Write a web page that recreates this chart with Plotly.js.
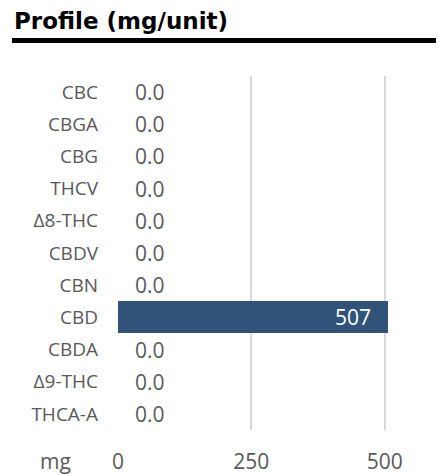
<!DOCTYPE html>
<html>
<head>
<meta charset="utf-8">
<script src="https://cdn.plot.ly/plotly-3.0.1.min.js"></script>
<style>html,body{margin:0;padding:0;background:#fff;}#chart{width:439px;height:475px;}</style>
</head>
<body>
<div id="chart"></div>
<script>
// Data (top to bottom as shown)
var categories = ["CBC", "CBGA", "CBG", "THCV", "\u03948-THC", "CBDV", "CBN", "CBD", "CBDA", "\u03949-THC", "THCA-A"];
var values = [0, 0, 0, 0, 0, 0, 0, 507, 0, 0, 0];
var xTicks = [0, 250, 500];
var unitLabel = "mg";
var chartTitle = "Profile (mg/unit)";

var labels = values.map(function (v) { return v >= 100 ? String(Math.round(v)) : v.toFixed(1); });

var grey = "#595959";
var barColor = "#31537a";

var annotations = values.map(function (v, i) {
  var inside = v >= 100;
  return {
    x: v, y: categories[i], xref: "x", yref: "y",
    text: labels[i], showarrow: false,
    xanchor: inside ? "right" : "left",
    xshift: inside ? -15 : 15,
    font: {family: "Open Sans", size: 21, color: inside ? "#ffffff" : grey}
  };
});
annotations.push({
  x: -0.2, y: 0, xref: "paper", yref: "paper", xanchor: "center", yanchor: "top",
  yshift: -16, borderpad: 0, text: unitLabel, showarrow: false,
  font: {family: "Open Sans", size: 21, color: grey}
});

var trace = {
  type: "bar", orientation: "h",
  x: values, y: categories,
  marker: {color: barColor},
  hoverinfo: "none"
};

var layout = {
  width: 439, height: 475,
  margin: {l: 118, r: 10, t: 76, b: 45},
  paper_bgcolor: "#ffffff", plot_bgcolor: "#ffffff",
  showlegend: false,
  bargap: 0,
  title: {
    text: "<b>" + chartTitle + "</b>",
    font: {family: "DejaVu Sans", size: 23, color: "#000000"},
    x: 14 / 439, xref: "container", xanchor: "left",
    y: 1 - 21 / 475, yref: "container", yanchor: "middle"
  },
  xaxis: {
    range: [0, 583],
    tickvals: xTicks, ticktext: xTicks.map(String),
    showgrid: true, gridcolor: "#d9d9d9", gridwidth: 2,
    zeroline: false, showline: false, ticks: "",
    ticklabelstandoff: 17,
    tickfont: {family: "Open Sans", size: 21, color: grey},
    fixedrange: true
  },
  yaxis: {
    type: "category", autorange: "reversed",
    showgrid: false, zeroline: false, showline: false, ticks: "",
    ticklabelstandoff: 19,
    tickfont: {family: "Open Sans", size: 19, color: grey},
    fixedrange: true
  },
  annotations: annotations,
  shapes: [{
    type: "rect", xref: "paper", yref: "paper",
    x0: (12 - 118) / 311, x1: (436 - 118) / 311,
    y0: (430 - 43) / 354, y1: (430 - 38) / 354,
    fillcolor: "#000000", line: {width: 0}
  }]
};

Plotly.newPlot("chart", [trace], layout, {staticPlot: true, displayModeBar: false});
</script>
</body>
</html>
